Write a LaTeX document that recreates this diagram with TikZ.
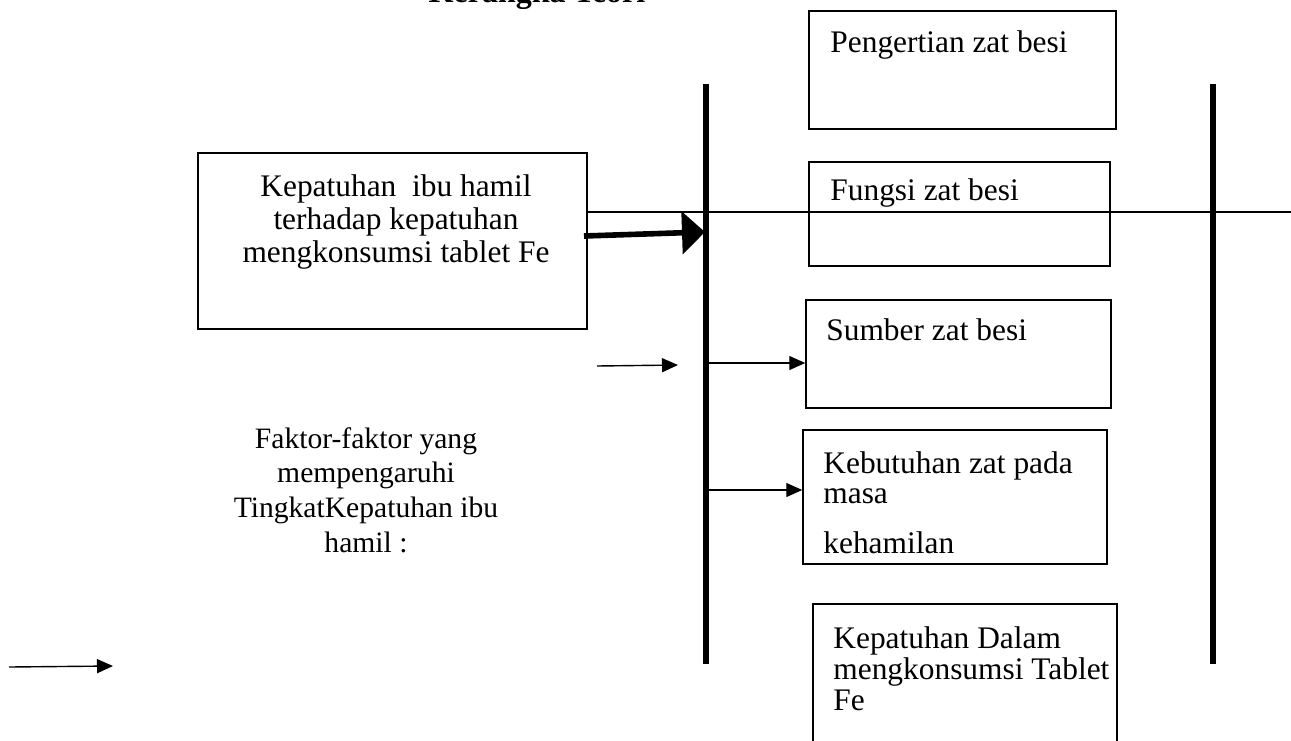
\documentclass[tikz,border=0pt]{standalone}
\usepackage{fontspec}
\setmainfont{Liberation Serif}
\usetikzlibrary{arrows.meta,fit}
\tikzset{
  boxst/.style={draw, line width=0.75pt, inner sep=0pt},
  txt/.style={inner sep=0pt, font=\fontsize{15.7}{16.5}\selectfont},
  titlest/.style={inner sep=0pt, font=\fontsize{16}{18}\selectfont\bfseries},
  thinarrow/.style={line width=0.7pt, -{Triangle[length=8pt,width=7pt]}},
  thickarrow/.style={line width=2.8pt, -{Triangle[length=11.5pt,width=21pt]}},
  barline/.style={line width=3pt},
  hline/.style={line width=0.9pt},
}
\begin{document}
\begin{tikzpicture}[x=0.5pt,y=-0.5pt]
\useasboundingbox (0,0) rectangle (1291,740);
\clip (0,0) rectangle (1291,740);

% title (mostly cut off at the top)
\node[titlest, anchor=base] (title) at (537,2) {Kerangka Teori};

% left main box
\node[boxst, fit={(198,153) (587,329)}] (boxA) {};
\node[txt, align=center, anchor=base, font=\fontsize{15.7}{16.5}\selectfont] (txtA) at (396,262)
  {Kepatuhan\ \ ibu hamil\\terhadap kepatuhan\\mengkonsumsi tablet Fe};

% factors text
\node[txt, align=center, anchor=base, font=\fontsize{14.8}{17.3}\selectfont] (faktor) at (366,552)
  {Faktor-faktor yang\\mempengaruhi\\TingkatKepatuhan ibu\\hamil :};

% right boxes
\node[boxst, fit={(809,11) (1116,129)}] (pengertian) {};
\node[txt, anchor=base west] (tPengertian) at (830,52) {Pengertian zat besi};

\node[boxst, fit={(809,162) (1110,266)}] (fungsi) {};
\node[txt, anchor=base west] (tFungsi) at (830,200) {Fungsi zat besi};

\node[boxst, fit={(806,300) (1111,408)}] (sumber) {};
\node[txt, anchor=base west] (tSumber) at (826,340) {Sumber zat besi};

\node[boxst, fit={(803,430) (1107,564)}] (kebutuhan) {};
\node[txt, align=left, anchor=base west, font=\fontsize{15.7}{15}\selectfont] (tKebutuhan) at (823,553)
  {Kebutuhan zat pada\\masa\\[10pt]kehamilan};

\node[boxst, fit={(813,604) (1117,790)}] (kepatuhan) {};
\node[txt, align=left, anchor=base west, font=\fontsize{15.7}{15.3}\selectfont] (tKepatuhan) at (833,710)
  {Kepatuhan Dalam\\mengkonsumsi Tablet\\Fe};

% vertical bars
\coordinate (v1t) at (706,84);
\coordinate (v1b) at (706,664);
\coordinate (v2t) at (1213,84);
\coordinate (v2b) at (1213,664);
\draw[barline] (v1t) -- (v1b);
\draw[barline] (v2t) -- (v2b);

% long horizontal line
\coordinate (hR) at (1300,212);
\draw[hline] (boxA.east |- hR) -- (hR);

% thick arrow
\coordinate (tkS) at (584,236);
\coordinate (tkE) at (705,232);
\draw[thickarrow] (tkS) -- (tkE);

% thin arrows
\coordinate (a1s) at (597,366);
\coordinate (a1e) at (678,365);
\draw[thinarrow] (a1s) -- (a1e);

\coordinate (a2s) at (709,363);
\draw[thinarrow] (a2s) -- (sumber.west |- a2s);

\coordinate (a3s) at (709,490);
\draw[thinarrow] (a3s) -- (kebutuhan.west |- a3s);

\coordinate (a4s) at (9,667);
\coordinate (a4e) at (113,666);
\draw[thinarrow] (a4s) -- (a4e);
\end{tikzpicture}
\end{document}
